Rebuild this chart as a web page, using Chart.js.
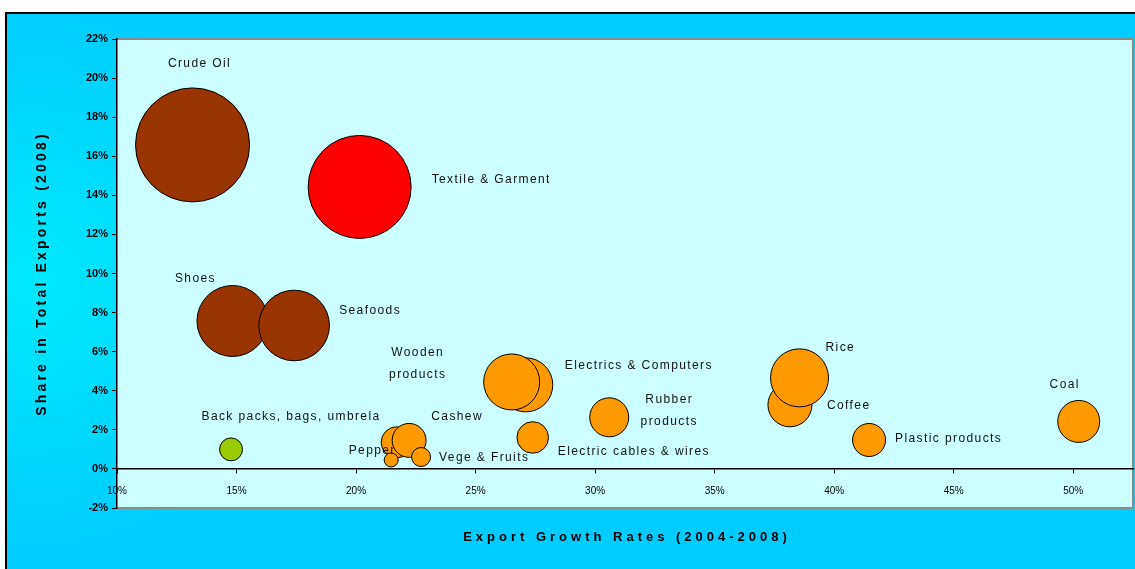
<!DOCTYPE html>
<html>
<head>
<meta charset="utf-8">
<title>Export growth vs share in total exports</title>
<script src="https://cdn.jsdelivr.net/npm/chart.js@4.4.1/dist/chart.umd.min.js"></script>
<style>
  html, body { margin: 0; padding: 0; background: #fff; overflow: hidden; }
  #wrap { position: relative; width: 1135px; height: 569px; }
</style>
</head>
<body>
<div id="wrap"><canvas id="c" width="1135" height="569"></canvas></div>
<script>
// Export products, drawn back to front
const products = [
  'Crude Oil', 'Textile & Garment', 'Shoes', 'Seafoods',
  'Back packs, bags, umbrela', '', 'Pepper', 'Cashew', 'Vege & Fruits',
  'Electrics & Computers', 'Wooden products', 'Electric cables & wires',
  'Rubber products', 'Coffee', 'Rice', 'Plastic products', 'Coal'
];
// Export growth rate 2004-2008 (%)
const growthRate = [
  13.16, 20.15, 14.83, 17.41,
  14.77, 21.70, 21.47, 22.22, 22.72,
  27.10, 26.51, 27.39,
  30.59, 38.15, 38.55, 41.46, 50.23
];
// Share in total exports 2008 (%)
const exportShare = [
  16.58, 14.43, 7.57, 7.34,
  1.00, 1.36, 0.46, 1.46, 0.61,
  4.30, 4.45, 1.61,
  2.64, 3.28, 4.66, 1.48, 2.43
];
// Bubble size (export volume weight)
const bubbleSize = [
  16.58, 13.53, 6.43, 6.36,
  0.67, 1.23, 0.25, 1.47, 0.46,
  3.72, 4.00, 1.27,
  1.94, 2.47, 4.29, 1.39, 2.25
];
const xTicks = [10, 15, 20, 25, 30, 35, 40, 45, 50];
const yTicks = [-2, 0, 2, 4, 6, 8, 10, 12, 14, 16, 18, 20, 22];
const xTitle = 'Export Growth Rates (2004-2008)';
const yTitle = 'Share in Total Exports (2008)';

// ---- styling ----
const BROWN = '#993300', RED = '#FF0000', ORANGE = '#FF9900', GREEN = '#99CC00';
const colorOf = {
  'Crude Oil': BROWN, 'Shoes': BROWN, 'Seafoods': BROWN,
  'Textile & Garment': RED,
  'Back packs, bags, umbrela': GREEN
};
const RADIUS_PER_SQRT = 14; // px of radius per sqrt(size unit)

// label placement relative to the bubble centre (px)
const labelPlacement = {
  'Crude Oil':                 { dx: 7,   dy: -81,  align: 'center' },
  'Textile & Garment':         { dx: 72,  dy: -7,   align: 'left' },
  'Shoes':                     { dx: -37, dy: -42,  align: 'center' },
  'Seafoods':                  { dx: 45,  dy: -15,  align: 'left' },
  'Back packs, bags, umbrela': { dx: 60,  dy: -33,  align: 'center' },
  'Pepper':                    { dx: -19, dy: -9,   align: 'center' },
  'Cashew':                    { dx: 48,  dy: -24,  align: 'center' },
  'Vege & Fruits':             { dx: 18,  dy: 1,    align: 'left' },
  'Electrics & Computers':     { dx: 39,  dy: -19,  align: 'left' },
  'Wooden products':           { dx: -94, dy: -29,  align: 'center', lines: ['Wooden', 'products'] },
  'Electric cables & wires':   { dx: 25,  dy: 14,   align: 'left' },
  'Rubber products':           { dx: 60,  dy: -18,  align: 'center', lines: ['Rubber', 'products'] },
  'Coffee':                    { dx: 37,  dy: 1,    align: 'left' },
  'Rice':                      { dx: 26,  dy: -30,  align: 'left' },
  'Plastic products':          { dx: 26,  dy: -1,   align: 'left' },
  'Coal':                      { dx: -14, dy: -37,  align: 'center' }
};

const points = products.map((p, i) => ({
  x: growthRate[i],
  y: exportShare[i],
  r: RADIUS_PER_SQRT * Math.sqrt(bubbleSize[i]),
  name: p
}));

const framePlugin = {
  id: 'frame',
  beforeDraw(chart) {
    const { ctx, chartArea: a, width, height } = chart;
    ctx.save();
    ctx.fillStyle = '#fff';
    ctx.fillRect(0, 0, width, height);
    const g = ctx.createRadialGradient(30, 280, 10, 30, 280, 280);
    g.addColorStop(0, '#00E8FF');
    g.addColorStop(1, '#00CCFF');
    ctx.fillStyle = g;
    ctx.fillRect(6, 13, width - 6, height - 13);
    ctx.fillStyle = '#000';
    ctx.fillRect(5, 12, width - 5, 2);
    ctx.fillRect(5, 12, 2, height - 12);
    ctx.fillStyle = '#CCFFFF';
    ctx.fillRect(a.left, a.top, a.right - a.left, a.bottom - a.top);
    ctx.strokeStyle = '#8a8a8a';
    ctx.lineWidth = 2;
    ctx.beginPath();
    ctx.moveTo(a.left, a.top);
    ctx.lineTo(a.right, a.top);
    ctx.lineTo(a.right, a.bottom);
    ctx.lineTo(a.left, a.bottom);
    ctx.stroke();
    ctx.restore();
  },
  afterDraw(chart) {
    const { ctx, chartArea: a } = chart;
    ctx.save();
    ctx.fillStyle = '#000';
    ctx.font = 'bold 13px "Liberation Sans", Arial, sans-serif';
    ctx.textAlign = 'center';
    ctx.textBaseline = 'middle';
    ctx.letterSpacing = '4px';
    ctx.fillText(xTitle, (a.left + a.right) / 2 + 2, 537);
    ctx.translate(42, (a.top + a.bottom) / 2);
    ctx.rotate(-Math.PI / 2);
    ctx.font = 'bold 14px "Liberation Sans", Arial, sans-serif';
    ctx.letterSpacing = '3.2px';
    ctx.fillText(yTitle, 0, 0);
    ctx.restore();
  }
};

const labelPlugin = {
  id: 'bubbleLabels',
  afterDatasetsDraw(chart) {
    const { ctx } = chart;
    const meta = chart.getDatasetMeta(0);
    ctx.save();
    ctx.fillStyle = '#111';
    ctx.font = '12px "Liberation Sans", Arial, sans-serif';
    ctx.letterSpacing = '1.4px';
    ctx.textBaseline = 'middle';
    meta.data.forEach((el, i) => {
      const name = products[i];
      const pl = labelPlacement[name];
      if (!name || !pl) return;
      ctx.textAlign = pl.align;
      const lines = pl.lines || [name];
      lines.forEach((line, k) => {
        ctx.fillText(line, el.x + pl.dx, el.y + pl.dy + k * 22);
      });
    });
    ctx.restore();
  }
};

new Chart(document.getElementById('c'), {
  type: 'bubble',
  data: {
    datasets: [{
      data: points,
      backgroundColor: products.map(p => colorOf[p] || ORANGE),
      borderColor: '#000',
      borderWidth: 1,
      hoverBorderWidth: 1
    }]
  },
  options: {
    responsive: false,
    animation: false,
    events: [],
    layout: { autoPadding: false, padding: { left: 0, top: 39, right: 2, bottom: 61 } },
    plugins: { legend: { display: false }, tooltip: { enabled: false } },
    scales: {
      x: {
        type: 'linear',
        position: { y: 0 },
        min: 10,
        max: 52.5,
        afterBuildTicks(s) { s.ticks = xTicks.map(v => ({ value: v })); },
        ticks: {
          callback: v => v + '%',
          color: '#000',
          font: { family: '"Liberation Sans", Arial, sans-serif', size: 10 },
          padding: 12,
          maxRotation: 0
        },
        grid: { drawOnChartArea: false, tickLength: 4, color: '#000' },
        border: { color: '#000', width: 1.5 }
      },
      y: {
        type: 'linear',
        min: -2,
        max: 22,
        afterFit(s) { s.width = 117; },
        afterBuildTicks(s) { s.ticks = yTicks.map(v => ({ value: v })); },
        ticks: {
          callback: v => v + '%',
          color: '#000',
          font: { family: '"Liberation Sans", Arial, sans-serif', size: 11, weight: 'bold' },
          padding: 4
        },
        grid: { drawOnChartArea: false, tickLength: 5, color: '#000' },
        border: { color: '#000', width: 1.5 }
      }
    }
  },
  plugins: [framePlugin, labelPlugin]
});
</script>
</body>
</html>
